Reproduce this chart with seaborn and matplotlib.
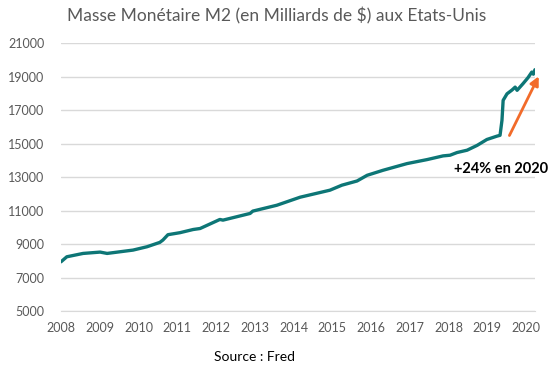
import matplotlib
matplotlib.use("Agg")
import matplotlib.pyplot as plt
import pandas as pd
import seaborn as sns

# M2 money stock (x in axis years, y in billions $)
years = [2008.00, 2008.15, 2008.57, 2009.01, 2009.19, 2009.86, 2010.22, 2010.55,
         2010.63, 2010.76, 2011.07, 2011.41, 2011.59, 2012.10, 2012.18, 2012.88,
         2012.95, 2013.57, 2014.17, 2014.94, 2015.25, 2015.64, 2015.90, 2016.31,
         2016.93, 2017.45, 2017.86, 2018.04, 2018.22, 2018.48, 2018.74, 2018.99,
         2019.25, 2019.33, 2019.38, 2019.41, 2019.51, 2019.64, 2019.72, 2019.77,
         2019.92, 2020.05, 2020.15, 2020.19, 2020.23]
m2 = [7940, 8240, 8440, 8520, 8440, 8640, 8840, 9100,
      9240, 9560, 9680, 9870, 9930, 10470, 10430, 10830,
      10970, 11320, 11800, 12220, 12520, 12770, 13110, 13410,
      13810, 14050, 14270, 14310, 14470, 14610, 14900, 15250,
      15450, 15500, 16400, 17590, 17980, 18210, 18380, 18190,
      18580, 18940, 19280, 19150, 19420]

year_ticks = list(range(2008, 2021))
value_ticks = list(range(5000, 21001, 2000))

title = "Masse Monétaire M2 (en Milliards de $) aux Etats-Unis"
note = "+24% en 2020"
source = "Source : Fred"

df = pd.DataFrame({"annee": years, "m2": m2})

sns.set_style("white")
plt.rcParams["font.family"] = ["Lato", "DejaVu Sans"]

grey = "#595959"
light = "#d9d9d9"
teal = "#0d7676"
orange = "#f26b2a"

fig = plt.figure(figsize=(5.53, 3.70), dpi=100)
ax = fig.add_axes([0.1103, 0.1595, 0.857, 0.7235])

sns.lineplot(data=df, x="annee", y="m2", ax=ax, color=teal, linewidth=2.4)

ax.set_xlim(2008, 2020.23)
ax.set_ylim(5000, 21000)
ax.set_xticks(year_ticks)
ax.set_xticklabels([str(y) for y in year_ticks])
ax.set_yticks(value_ticks)
ax.set_yticklabels([str(v) for v in value_ticks])
ax.set_xlabel("")
ax.set_ylabel("")

ax.grid(axis="y", color=light, linewidth=1)
ax.set_axisbelow(True)
for s in ["top", "right", "left"]:
    ax.spines[s].set_visible(False)
ax.spines["bottom"].set_color(light)
ax.tick_params(axis="x", length=4, color=light, labelcolor=grey, labelsize=9, pad=4)
ax.tick_params(axis="y", length=0, labelcolor=grey, labelsize=9, pad=12)

ax.annotate("", xy=(2020.36, 19180), xytext=(2019.54, 15340),
            arrowprops=dict(arrowstyle="-|>", color=orange, lw=2, mutation_scale=13),
            annotation_clip=False)
ax.text(2019.35, 13510, note, ha="center", va="center", fontsize=10.5,
        fontweight="bold", color="black")

fig.text(0.501, 0.957, title, ha="center", va="center", fontsize=12.5, color=grey)
fig.text(0.461, 0.035, source, ha="center", va="center", fontsize=10, color="black")

fig.savefig("out.png", dpi=100)
